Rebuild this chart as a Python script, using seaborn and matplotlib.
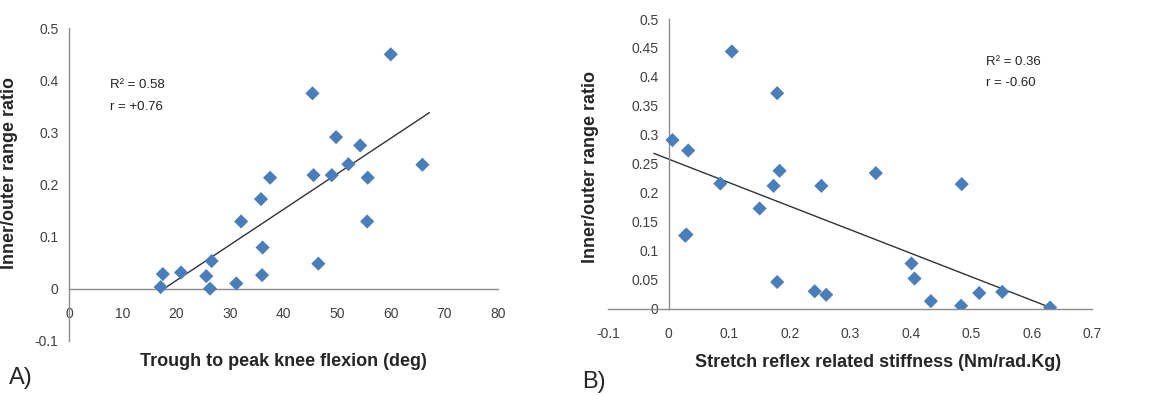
import numpy as np
import pandas as pd
import matplotlib
matplotlib.use("Agg")
import matplotlib.pyplot as plt
import seaborn as sns

# panel A: knee flexion vs inner/outer ratio
knee_flex = [17.1, 17.5, 20.9, 25.6, 26.3, 26.6, 31.2, 32.1, 35.8, 36.1, 36.0, 37.5,
             45.4, 45.6, 46.5, 49.0, 49.8, 52.1, 54.3, 55.7, 55.6, 60.0, 65.9]
ratio_a = [0.003, 0.028, 0.031, 0.024, 0.0, 0.053, 0.010, 0.129, 0.172, 0.079, 0.026, 0.213,
           0.375, 0.218, 0.048, 0.218, 0.291, 0.239, 0.275, 0.213, 0.129, 0.450, 0.238]
# trendline: slope, intercept, x range
trend_a = (0.00683, -0.121)
trend_a_x = [17.7, 67.2]

# panel B: stretch reflex stiffness vs inner/outer ratio
stiffness = [0.006, 0.032, 0.029, 0.027, 0.085, 0.104, 0.150, 0.173, 0.179, 0.183, 0.179, 0.241,
             0.252, 0.260, 0.342, 0.401, 0.406, 0.433, 0.484, 0.483, 0.513, 0.551, 0.630]
ratio_b = [0.291, 0.273, 0.128, 0.126, 0.216, 0.444, 0.173, 0.212, 0.372, 0.238, 0.046, 0.030,
           0.212, 0.024, 0.234, 0.078, 0.052, 0.013, 0.215, 0.005, 0.027, 0.029, 0.002]
trend_b = (-0.406, 0.258)
trend_b_x = [-0.025, 0.630]

df_a = pd.DataFrame({'x': knee_flex, 'y': ratio_a})
df_b = pd.DataFrame({'x': stiffness, 'y': ratio_b})

sns.set_style("white")
plt.rcParams['font.family'] = ['Liberation Sans']

blue = '#4a7ebb'
axcol = '#8c8c8c'
tickcol = '#404040'

fig = plt.figure(figsize=(11.65, 3.96), dpi=100)
ax1 = fig.add_axes([0.0592, 0.1396, 0.3683, 0.789])
ax2 = fig.add_axes([0.5222, 0.2205, 0.4155, 0.7315])


def style_axes(ax):
    for s in ['top', 'right']:
        ax.spines[s].set_visible(False)
    for s in ['left', 'bottom']:
        ax.spines[s].set_color(axcol)
        ax.spines[s].set_linewidth(1)
    ax.tick_params(axis='both', direction='out', length=4, width=1, color=axcol,
                   labelsize=10, labelcolor=tickcol)
    ax.tick_params(axis='x', pad=9)
    ax.xaxis.set_major_formatter(matplotlib.ticker.FormatStrFormatter('%g'))
    ax.yaxis.set_major_formatter(matplotlib.ticker.FormatStrFormatter('%g'))


# --- A ---
sns.scatterplot(data=df_a, x='x', y='y', marker='D', s=52, color=blue,
                edgecolor='none', ax=ax1, zorder=3)
xs = np.array(trend_a_x)
ax1.plot(xs, trend_a[0] * xs + trend_a[1], color='#333333', lw=1, zorder=2)
ax1.set_xlim(0, 80)
ax1.set_ylim(-0.1, 0.5)
ax1.set_xticks(np.arange(0, 81, 10))
ax1.set_yticks(np.round(np.arange(-0.1, 0.51, 0.1), 1))
style_axes(ax1)
ax1.spines['bottom'].set_position(('data', 0))
ax1.set_xlabel('Trough to peak knee flexion (deg)', fontsize=13, fontweight='bold')
ax1.xaxis.set_label_coords(0.5, -0.04)
ax1.set_ylabel('Inner/outer range ratio', fontsize=13, fontweight='bold')
ax1.yaxis.set_label_coords(-0.119, 0.537)
ax1.text(0.095, 0.81, 'R² = 0.58', transform=ax1.transAxes, fontsize=9.5, color='#222222')
ax1.text(0.095, 0.74, 'r = +0.76', transform=ax1.transAxes, fontsize=9.5, color='#222222')

# --- B ---
sns.scatterplot(data=df_b, x='x', y='y', marker='D', s=52, color=blue,
                edgecolor='none', ax=ax2, zorder=3)
xs = np.array(trend_b_x)
ax2.plot(xs, trend_b[0] * xs + trend_b[1], color='#333333', lw=1, zorder=2)
ax2.set_xlim(-0.1, 0.7)
ax2.set_ylim(0, 0.5)
ax2.set_xticks(np.round(np.arange(-0.1, 0.71, 0.1), 1))
ax2.set_yticks(np.round(np.arange(0, 0.51, 0.05), 2))
style_axes(ax2)
ax2.spines['left'].set_position(('data', 0))
ax2.set_xlabel('Stretch reflex related stiffness (Nm/rad.Kg)', fontsize=13, fontweight='bold')
ax2.xaxis.set_label_coords(0.557, -0.155)
ax2.set_ylabel('Inner/outer range ratio', fontsize=13, fontweight='bold')
ax2.yaxis.set_label_coords(-0.019, 0.49)
ax2.text(0.78, 0.84, 'R² = 0.36', transform=ax2.transAxes, fontsize=9.5, color='#222222')
ax2.text(0.78, 0.77, 'r = -0.60', transform=ax2.transAxes, fontsize=9.5, color='#222222')

fig.text(0.008, 0.03, 'A)', fontsize=17)
fig.text(0.5, 0.02, 'B)', fontsize=17)

fig.savefig('out.png', dpi=100)
